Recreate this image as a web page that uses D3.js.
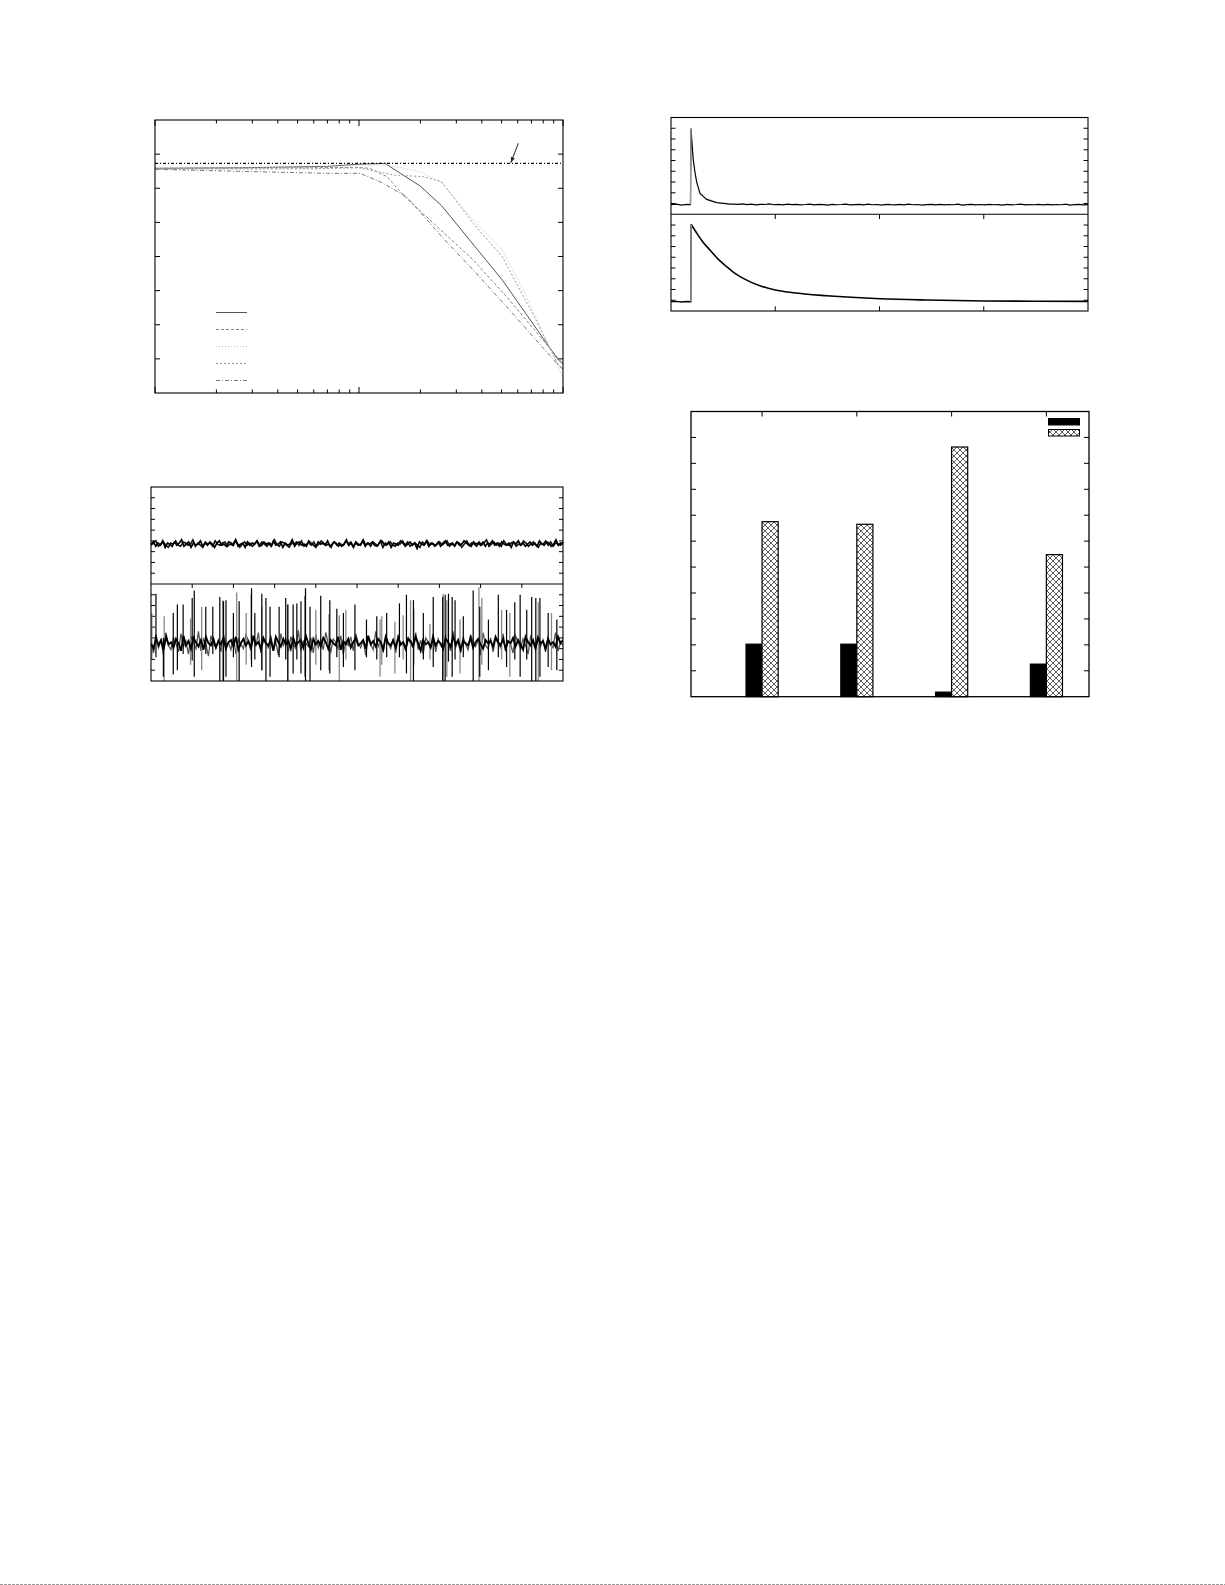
<!DOCTYPE html>
<html><head><meta charset="utf-8">
<script src="https://cdn.jsdelivr.net/npm/d3@7"></script>
<style>html,body{margin:0;padding:0;background:#fff}svg{display:block}</style>
</head><body>
<script>
// ---------- Chart 1: frequency responses (log x) ----------
const respSolid  = [[10,-4.16],[26,-4.0],[70,-3.6],[97,-3.0],[134,-2.7],[199,-9.3],[254,-15.1],[504,-36.9],[948,-60.3],[1000,-61.5]];
const respDashed = [[10,-4.16],[60,-4.0],[97,-3.87],[113,-4.16],[137,-6.6],[171,-12.95],[363,-31.0],[529,-41.8],[948,-59.8],[1000,-61]];
const respDotA   = [[10,-4.3],[60,-3.8],[100,-3.2],[137,-3.19],[199,-5.14],[254,-8.36],[363,-19.3],[504,-28.1],[639,-39.8],[948,-62.3],[1000,-65.7]];
const respDotB   = [[10,-4.4],[60,-4.3],[100,-4.0],[147,-6.12],[207,-6.6],[254,-8.07],[363,-20.3],[504,-30.05],[743,-49],[948,-61.8],[1000,-63]];
const respDashDot= [[10,-4.46],[70,-5.63],[101,-5.63],[127,-8.07],[171,-12.47],[259,-24.7],[363,-33.96],[529,-44.7],[948,-61.8],[1000,-63]];
const refLevel = -2.7;
const arrowFrom = [604, 3.17], arrowTo = [555, -2.5];
const c1YTicks = [-60,-50,-40,-30,-20,-10,0];

// ---------- Chart 2: noise traces ----------
const traceTop = [37,39,35,38,36,40,34,38,37,35,39,36,38,41,35,37,39,34,38,36,37,40,35,38,36,39,37,34,38,40,36,37,35,39,38,36,41,35,37,38,34,39,36,38,37,40,35,36,39,37,38,35,40,36,37,39,34,38,36,37,41,35,38,39,36,37,35,40,38,36,34,39,37,38,36,40,35,37,39,36,38,35,37,41,36,38,34,39,37,36,40,35,38,37,39,36,35,38,40,37,36,39,34,38,37,36,40,38,35,37,39,36,38,33,39,37,36,40,35,38,37,36,39,35,38,40,36,37,38,35,39,36,37,40,38,36,35,39,37,38,36,39,35,38,37,40,36,38,35,39,37,36,38,34,39,37,40,36,38,35,37,39,36,38,35,40,37,36,39,38,35,37,41,36,38,37];
const traceTop2 = [36,38,40,35,37,39,36,34,38,37,40,36,35,39,38,36,37,41,35,38,36,34,39,37,38,35,40,37,36,38,39,35,37,36,40,38,34,37,39,36,38,35,37,40,36,39,37,35,38,36,41,37,35,39,38,36,34,38,37,39,36,40,35,37,38,36,39,35,37,40,38,36,37,34,39,38,35,37,36,40,37,39,35,38,36,37,41,36,38,35,39,37,36,40,34,38,37,39,36,35,38,37,40,36,39,35,37,38,36,34,39,37,40,36,38,35,37,39,36,38,40,35,37,36,39,38,34,37,40,36,38,37,35,39,36,38,41,35,37,39,36,38,35,40,37,36,38,39,35,37,36,40,38,35,37,39,36,34,38,37,40,36,39,35,38,37,36,39];
const traceBottom = [35,30,40,33,38,29,41,34,36,31,39,35,28,42,33,37,30,40,36,32,38,29,41,35,33,39,31,37,34,40,30,36,38,32,41,29,35,39,33,37,31,42,34,36,30,40,35,33,38,28,41,36,32,39,34,37,30,40,33,36,38,31,42,35,29,39,34,37,32,40,36,30,38,35,33,41,29,37,34,39,31,36,40,33,35,38,30,42,34,37,32,39,36,29,41,35,33,38,31,40,34,36,30,39,37,32,41,35,28,38,34,36,31,40,33,37,35,30,39,36,32,41,34,38,29,37,35,33,40,31,36,39,34,30,38,35,37,32,41,36,33,39,30,37,35,40,32,38,34,29,41,36,33,38,31,40,35,37,30,39,34,36,32,41,35,38];
const traceBottom2 = [34,26,43,31,38,24,45,33,29,40,35,27,44,32,37,25,41,36,30,46,28,39,34,23,42,35,31,38,27,44,33,36,29,41,25,39,34,30,43,37,28,40,32,45,26,38,35,31,42,29,36,24,44,33,39,27,41,34,30,47,28,37,35,32,40,26,43,31,38,29,45,34,27,39,36,30,42,25,37,33,41,28,44,35,31,38,24,40,34,29,46,32,37,27,42,35,30,39,26,43,33,36,28,41,34,31,45,29,38,25,40,36,32,44,27,39,33,30,42,35,28,46,31,37,26,41,34,29,43,36,32,38,24,45,33,30,40,27,39,35,31,44,28,37,34,26,42,36,30,39,33,25,41,35,29,43,32,38,27,40,34,31,45,28,36,33];
// spikes: [x, high, low]
const spikesBlack = [[1.2,81,22],[3.0,40,4],[5.4,63,6],[6.4,71,10],[7.8,71,25],[10.0,77,19],[10.5,84,4],[13.3,69,25],[15.0,69,25],[16.7,78,1],[17.6,74,1],[18.2,75,4],[20.0,63,22],[21.4,74,1],[24.4,86,13],[25.2,63,20],[26.9,81,10],[27.9,77,1],[28.9,69,4],[31.1,69,22],[32.7,77,20],[33.2,71,1],[34.5,71,7],[35.4,72,20],[36.4,74,7],[37.5,86,1],[38.6,69,1],[41.2,79,10],[43.4,75,7],[45.1,67,22],[46.7,63,13],[49.5,71,10],[52.3,57,22],[54.8,60,20],[57.2,63,22],[60.3,72,22],[62.0,80,7],[63.7,75,1],[66.1,63,20],[68.5,78,13],[70.8,78,1],[71.4,80,1],[72.2,81,18],[73.1,78,4],[73.8,75,20],[75.8,60,22],[78.2,84,1],[79.8,69,4],[81.9,57,10],[84.3,80,22],[86.3,66,13],[88.3,73,20],[89.6,80,4],[91.2,66,20],[92.4,78,1],[93.4,77,1],[94.4,77,4],[96.4,63,13],[98.5,57,10]];
const spikesGray = [[0.2,63,20],[3.2,60,1],[9.6,58,15],[12.3,69,10],[17.4,75,1],[20.8,82,1],[23.1,63,15],[24.3,80,20],[26.9,69,10],[33.2,71,1],[37.3,79,4],[40.0,66,15],[43.2,62,10],[45.7,61,1],[47.3,66,20],[55.6,57,4],[56.0,60,15],[59.2,55,7],[61.2,61,20],[63.0,75,1],[63.8,67,15],[67.7,53,20],[70.9,81,1],[71.8,75,4],[75.0,57,7],[79.6,87,1],[80.3,77,15],[85.1,66,20],[87.1,63,4],[94.0,73,1],[97.2,63,10]];
const c2YTicks = [10,20,30,40,50,60,70,80];
const c2XTicks = [10,20,30,40,50,60,70,80,90];

// ---------- Chart 3: decay transients ----------
const decayFast = [[0,0.9],[0.05,0.94],[0.1,0.86],[0.15,0.92],[0.187,0.9],[0.192,7.98],[0.2,6.8],[0.214,5.04],[0.23,3.9],[0.246,3.02],[0.278,1.95],[0.342,1.39],[0.438,1.08],[0.566,0.95]];
const fastTail = [0.95,0.92,0.97,0.9,0.94,0.88,0.93,0.91,0.96,0.89,0.92,0.87,0.94,0.9,0.93,0.88,0.91,0.95,0.87,0.92,0.9,0.86,0.93,0.89,0.91,0.94,0.87,0.9,0.92,0.88,0.95,0.89,0.91,0.86,0.93,0.9,0.88,0.92,0.87,0.94,0.89,0.91,0.86,0.9,0.93,0.88,0.92,0.87,0.91,0.89,0.94,0.86,0.9,0.92,0.88,0.91,0.87,0.93,0.89,0.9,0.86,0.92,0.88,0.91,0.95,0.87,0.9,0.89,0.92,0.88,0.93,0.87,0.91,0.89,0.94,0.86,0.9,0.92,0.88,0.9];
const decaySlow = [[0,0.87],[0.05,0.9],[0.1,0.84],[0.15,0.89],[0.19,0.87],[0.193,8.07],[0.25,7.2],[0.3,6.5],[0.374,5.67],[0.45,4.85],[0.534,4.12],[0.6,3.6],[0.693,3.04],[0.853,2.35],[1.0,1.95],[1.173,1.7],[1.493,1.42],[2.007,1.14],[2.452,1.02],[3.013,0.93],[3.5,0.91],[4.0,0.9]];
const c3YTicks = [1,2,3,4,5,6,7,8];
const c3XTicks = [1,2,3];

// ---------- Chart 4: grouped bars ----------
const groups = [0,1,2,3];
const barSolid = [20.3,20.3,1.8,12.6];
const barHatch = [67.5,66.5,96.3,54.8];
const c4YTicks = [10,20,30,40,50,60,70,80,90,100];

const W = 1225, H = 1585;
const svg = d3.select("body").append("svg").attr("width",W).attr("height",H);
svg.append("rect").attr("width",W).attr("height",H).attr("fill","#fff");

function frame(g,x0,y0,x1,y1,w){
  g.append("rect").attr("x",x0).attr("y",y0).attr("width",x1-x0).attr("height",y1-y0)
   .attr("fill","none").attr("stroke","#000").attr("stroke-width",w||1.1);
}
function hTicks(g,vals,y,xl,xr,len){
  vals.forEach(v=>{
    g.append("line").attr("x1",xl).attr("x2",xl+len).attr("y1",y(v)).attr("y2",y(v)).attr("stroke","#000");
    g.append("line").attr("x1",xr).attr("x2",xr-len).attr("y1",y(v)).attr("y2",y(v)).attr("stroke","#000");
  });
}

// ===== Chart 1 =====
{
  const g = svg.append("g");
  const x = d3.scaleLog().domain([10,1000]).range([155,563]);
  const y = d3.scaleLinear().domain([-70,10]).range([393,120]);
  hTicks(g,c1YTicks,y,155,563,5);
  x.ticks().forEach(t=>{
    const major = Math.abs(Math.log10(t)-Math.round(Math.log10(t)))<1e-9;
    const len = major?6:3.5;
    g.append("line").attr("x1",x(t)).attr("x2",x(t)).attr("y1",120).attr("y2",120+len).attr("stroke","#000");
    g.append("line").attr("x1",x(t)).attr("x2",x(t)).attr("y1",393).attr("y2",393-len).attr("stroke","#000");
  });
  const line = d3.line().x(d=>x(d[0])).y(d=>y(d[1]));
  const series = [
    {d:respSolid,  c:"#555", dash:null},
    {d:respDashed, c:"#888", dash:"3,2"},
    {d:respDotA,   c:"#bbb", dash:"1,2"},
    {d:respDotB,   c:"#999", dash:"2,2"},
    {d:respDashDot,c:"#777", dash:"4,2,1,2"}
  ];
  series.forEach(s=>{
    g.append("path").attr("d",line(s.d)).attr("fill","none").attr("stroke",s.c)
     .attr("stroke-width",1).attr("stroke-dasharray",s.dash);
  });
  g.append("line").attr("x1",x(10)).attr("x2",x(1000)).attr("y1",y(refLevel)).attr("y2",y(refLevel))
   .attr("stroke","#000").attr("stroke-width",1.2).attr("stroke-dasharray","3,2,1,2");
  const ax0=x(arrowFrom[0]), ay0=y(arrowFrom[1]), ax1=x(arrowTo[0]), ay1=y(arrowTo[1]);
  g.append("line").attr("x1",ax0).attr("y1",ay0).attr("x2",ax1).attr("y2",ay1).attr("stroke","#222").attr("stroke-width",1);
  const ang = Math.atan2(ay1-ay0, ax1-ax0), hl=6, hw=0.35;
  g.append("path").attr("d",`M${ax1},${ay1}L${ax1-hl*Math.cos(ang-hw)},${ay1-hl*Math.sin(ang-hw)}L${ax1-hl*Math.cos(ang+hw)},${ay1-hl*Math.sin(ang+hw)}Z`).attr("fill","#222");
  series.forEach((s,i)=>{
    const ly = 312.5 + i*17;
    g.append("line").attr("x1",216).attr("x2",247).attr("y1",ly).attr("y2",ly).attr("stroke",s.c)
     .attr("stroke-width",1).attr("stroke-dasharray",s.dash);
  });
  frame(g,155,120,563,393,1.1);
}

// ===== Chart 2 =====
{
  const g = svg.append("g");
  const x = d3.scaleLinear().domain([0,100]).range([151,563]);
  const yT = d3.scaleLinear().domain([0,90]).range([584,487]);
  const yB = d3.scaleLinear().domain([0,90]).range([681,584]);
  const defs = svg.append("defs");
  defs.append("clipPath").attr("id","c2b").append("rect").attr("x",151).attr("y",584).attr("width",412).attr("height",97);
  hTicks(g,c2YTicks,yT,151,563,4);
  hTicks(g,c2YTicks,yB,151,563,4);
  c2XTicks.forEach(t=>g.append("line").attr("x1",x(t)).attr("x2",x(t)).attr("y1",584).attr("y2",588).attr("stroke","#000"));
  const drawTrace = (grp, arr, y, color, w) => {
    const xi = d3.scaleLinear().domain([0,arr.length-1]).range([0,100]);
    grp.append("path").attr("d",d3.line().x((d,i)=>x(xi(i))).y(d=>y(d))(arr))
      .attr("fill","none").attr("stroke",color).attr("stroke-width",w);
  };
  drawTrace(g, traceTop2, yT, "#111", 1.6);
  drawTrace(g, traceTop, yT, "#000", 1.7);
  const gb = g.append("g").attr("clip-path","url(#c2b)");
  drawTrace(gb, traceBottom2, yB, "#555", 1.3);
  spikesGray.forEach(s=>gb.append("line").attr("x1",x(s[0])).attr("x2",x(s[0])).attr("y1",yB(s[1])).attr("y2",yB(s[2]<=1?-3:s[2])).attr("stroke","#888").attr("stroke-width",1.3));
  drawTrace(gb, traceBottom, yB, "#000", 1.9);
  spikesBlack.forEach(s=>gb.append("line").attr("x1",x(s[0])).attr("x2",x(s[0])).attr("y1",yB(s[1])).attr("y2",yB(s[2]<=1?-3:s[2])).attr("stroke","#000").attr("stroke-width",1.2));
  g.append("line").attr("x1",151).attr("x2",563).attr("y1",584).attr("y2",584).attr("stroke","#000").attr("stroke-width",1.1);
  frame(g,151,487,563,681,1.1);
}

// ===== Chart 3 =====
{
  const g = svg.append("g");
  const x = d3.scaleLinear().domain([0,4]).range([671,1088]);
  const yT = d3.scaleLinear().domain([0,9]).range([214.3,117.5]);
  const yB = d3.scaleLinear().domain([0,9]).range([311,214.3]);
  hTicks(g,c3YTicks,yT,671,1088,4.5);
  hTicks(g,c3YTicks,yB,671,1088,4.5);
  c3XTicks.forEach(t=>{
    g.append("line").attr("x1",x(t)).attr("x2",x(t)).attr("y1",214.3).attr("y2",219).attr("stroke","#000");
    g.append("line").attr("x1",x(t)).attr("x2",x(t)).attr("y1",311).attr("y2",306.3).attr("stroke","#000");
  });
  const xt = d3.scaleLinear().domain([0,fastTail.length-1]).range([0.6,4.0]);
  const fastAll = decayFast.concat(fastTail.map((v,i)=>[xt(i),v]));
  const lnT = d3.line().x(d=>x(d[0])).y(d=>yT(d[1]));
  g.append("path").attr("d",lnT(fastAll)).attr("fill","none").attr("stroke","#000").attr("stroke-width",1.2);
  g.append("line").attr("x1",x(decayFast[4][0])).attr("x2",x(decayFast[5][0])).attr("y1",yT(decayFast[4][1])).attr("y2",yT(decayFast[5][1])).attr("stroke","#999").attr("stroke-width",1.3);
  const lnB = d3.line().x(d=>x(d[0])).y(d=>yB(d[1])).curve(d3.curveMonotoneX);
  g.append("path").attr("d",d3.line().x(d=>x(d[0])).y(d=>yB(d[1]))(decaySlow.slice(0,6))).attr("fill","none").attr("stroke","#000").attr("stroke-width",1.4);
  g.append("path").attr("d",lnB(decaySlow.slice(5))).attr("fill","none").attr("stroke","#000").attr("stroke-width",1.6);
  g.append("line").attr("x1",x(decaySlow[4][0])).attr("x2",x(decaySlow[5][0])).attr("y1",yB(decaySlow[4][1])).attr("y2",yB(decaySlow[5][1])).attr("stroke","#999").attr("stroke-width",1.3);
  g.append("line").attr("x1",671).attr("x2",1088).attr("y1",214.3).attr("y2",214.3).attr("stroke","#000").attr("stroke-width",1.1);
  frame(g,671,117.5,1088,311,1.1);
}

// ===== Chart 4 =====
{
  const g = svg.append("g");
  const defs = svg.append("defs");
  const p = defs.append("pattern").attr("id","xhatch").attr("patternUnits","userSpaceOnUse").attr("width",6).attr("height",6);
  p.append("rect").attr("width",6).attr("height",6).attr("fill","#fff");
  p.append("path").attr("d","M0,0L6,6M0,6L6,0M-1,1L1,-1M5,7L7,5M-1,5L1,7M5,-1L7,1").attr("stroke","#333").attr("stroke-width",0.8);
  const x = d3.scaleLinear().domain([-0.75,3.45]).range([691,1089]);
  const y = d3.scaleLinear().domain([0,110]).range([696.7,411.5]);
  hTicks(g,c4YTicks,y,691,1089,5);
  groups.forEach(t=>g.append("line").attr("x1",x(t)).attr("x2",x(t)).attr("y1",411.5).attr("y2",416.5).attr("stroke","#000"));
  const bw = 0.17;
  g.selectAll(".bs").data(groups).join("rect")
    .attr("x",d=>x(d-bw)).attr("width",d=>x(d)-x(d-bw))
    .attr("y",(d,i)=>y(barSolid[i])).attr("height",(d,i)=>y(0)-y(barSolid[i]))
    .attr("fill","#000").attr("stroke","#000").attr("stroke-width",1);
  g.selectAll(".bh").data(groups).join("rect")
    .attr("x",d=>x(d)).attr("width",d=>x(d+bw)-x(d))
    .attr("y",(d,i)=>y(barHatch[i])).attr("height",(d,i)=>y(0)-y(barHatch[i]))
    .attr("fill","url(#xhatch)").attr("stroke","#000").attr("stroke-width",1.2);
  g.append("rect").attr("x",1048.5).attr("y",418.5).attr("width",31).attr("height",6.5).attr("fill","#000").attr("stroke","#000");
  g.append("rect").attr("x",1048.5).attr("y",429.5).attr("width",31).attr("height",6.5).attr("fill","url(#xhatch)").attr("stroke","#000");
  frame(g,691,411.5,1089,696.7,1.3);
}

svg.append("line").attr("x1",0).attr("x2",W).attr("y1",1584.5).attr("y2",1584.5)
  .attr("stroke","#999").attr("stroke-width",1).attr("stroke-dasharray","3,1");
</script>
</body></html>
